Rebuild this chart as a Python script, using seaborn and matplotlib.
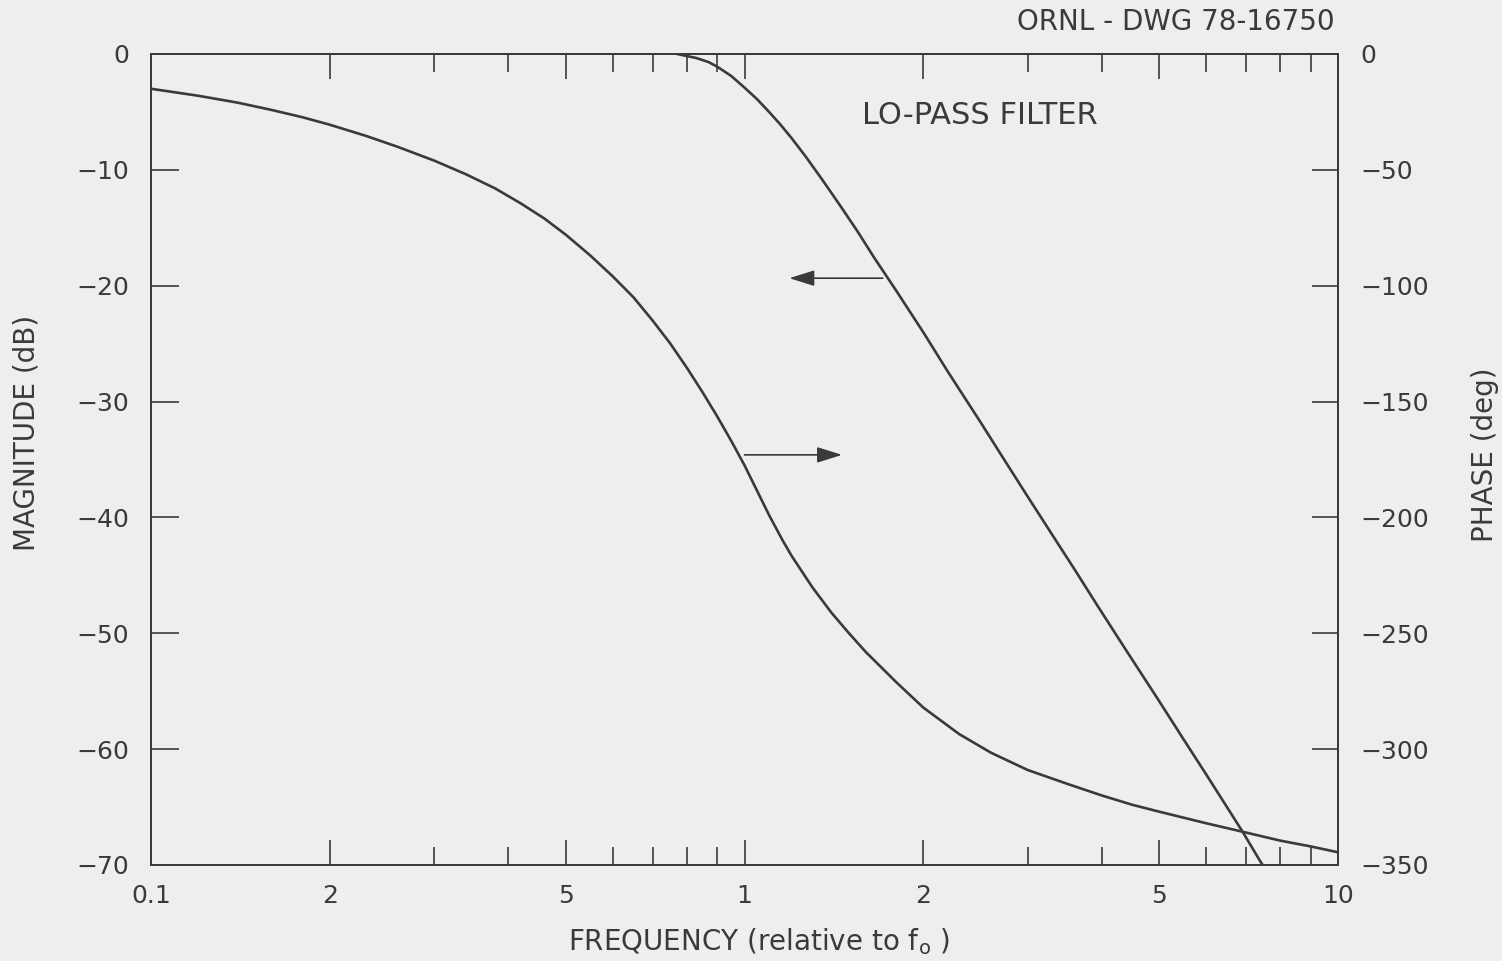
import matplotlib
matplotlib.use("Agg")
import matplotlib.pyplot as plt
import seaborn as sns
import pandas as pd
from matplotlib.ticker import FixedLocator, NullFormatter

# --- DATA ---
mag_freq = [0.77, 0.83, 0.87, 0.9, 0.95, 1.0, 1.05, 1.1, 1.15, 1.2, 1.27, 1.35,
            1.45, 1.55, 1.65, 1.8, 2.0, 2.2, 2.5, 2.73, 3.0, 3.3, 3.6, 3.92,
            4.4, 4.96, 5.5, 6.0, 6.5, 6.92, 7.4, 7.6]
mag_db = [0.0, -0.35, -0.7, -1.1, -1.9, -2.9, -3.9, -5.0, -6.1, -7.25, -8.9, -10.8,
          -13.1, -15.3, -17.5, -20.4, -24.0, -27.4, -31.8, -34.9, -38.2, -41.5, -44.5, -47.5,
          -51.5, -55.6, -59.2, -62.2, -65.0, -67.2, -69.7, -70.6]

phase_freq = [0.1, 0.12, 0.14, 0.16, 0.18, 0.2, 0.23, 0.26, 0.3, 0.34, 0.38,
              0.42, 0.46, 0.5, 0.55, 0.6, 0.65, 0.7, 0.75, 0.8, 0.85, 0.9,
              0.95, 1.0, 1.05, 1.1, 1.16, 1.2, 1.3, 1.4, 1.5, 1.6, 1.8, 2.0,
              2.3, 2.6, 3.0, 3.5, 4.0, 4.5, 5.0, 6.0, 7.0, 8.0, 9.0, 10.0]
phase_deg = [-15, -18, -21, -24.2, -27.3, -30.5, -35.3, -40, -46, -52, -58,
             -64.5, -71, -78, -87, -96, -105, -115, -125, -135.5, -146, -156.5,
             -167, -177.5, -188.5, -199, -210, -216.5, -230, -241, -250, -258, -271, -282,
             -293.5, -301.5, -309, -315, -320, -324, -327, -332, -336, -339.5, -342, -344.5]

x_ticks = [0.1, 0.2, 0.5, 1, 2, 5, 10]
x_ticklabels = ["0.1", "2", "5", "1", "2", "5", "10"]
x_minor = [0.3, 0.4, 0.6, 0.7, 0.8, 0.9, 3, 4, 6, 7, 8, 9]
mag_ticks = [0, -10, -20, -30, -40, -50, -60, -70]
phase_ticks = [0, -50, -100, -150, -200, -250, -300, -350]

# annotation arrows (tail, head) in (freq, dB)
ARROW_LEFT = ((1.71, -19.35), (1.19, -19.35))
ARROW_RIGHT = ((1.0, -34.6), (1.46, -34.6))

INK = "#3a3a3a"
BG = "#eeeeee"

sns.set_theme(style="white")
plt.rcParams["font.family"] = ["DejaVu Sans"]
plt.rcParams["text.color"] = INK
plt.rcParams["axes.labelcolor"] = INK
plt.rcParams["xtick.color"] = INK
plt.rcParams["ytick.color"] = INK

df_mag = pd.DataFrame({"freq": mag_freq, "mag": mag_db})
df_phase = pd.DataFrame({"freq": phase_freq, "phase": phase_deg})

fig = plt.figure(figsize=(15.02, 9.61), dpi=100, facecolor=BG)
ax = fig.add_axes([151 / 1502, 1 - 865 / 961, 1187 / 1502, 811 / 961])
ax.set_facecolor(BG)
ax2 = ax.twinx()

sns.lineplot(data=df_mag, x="freq", y="mag", ax=ax, color=INK, linewidth=1.9)
sns.lineplot(data=df_phase, x="freq", y="phase", ax=ax2, color=INK, linewidth=1.9)

ax.set_xscale("log")
ax.set_xlim(0.1, 10)
ax.set_ylim(-70, 0)
ax2.set_ylim(-350, 0)

ax.xaxis.set_major_locator(FixedLocator(x_ticks))
ax.set_xticklabels(x_ticklabels)
ax.xaxis.set_minor_locator(FixedLocator(x_minor))
ax.xaxis.set_minor_formatter(NullFormatter())
ax.set_yticks(mag_ticks)
ax2.set_yticks(phase_ticks)

ax.tick_params(axis="x", which="major", direction="in", top=True, bottom=True,
               length=18, width=1.2, pad=14, labelsize=18)
ax.tick_params(axis="x", which="minor", direction="in", top=True, bottom=True,
               length=13, width=1.2)
ax.tick_params(axis="y", which="both", direction="in", left=True, right=False,
               length=20, width=1.2, pad=16, labelsize=18)
ax2.tick_params(axis="y", which="both", direction="in", left=False, right=True,
                length=19, width=1.2, pad=16, labelsize=18)

for a in (ax, ax2):
    for s in a.spines.values():
        s.set_color(INK)
        s.set_linewidth(1.4)

ax.set_xlabel("FREQUENCY (relative to f$_\\mathrm{o}$ )", fontsize=20, va="center")
ax.xaxis.set_label_coords(0.512, -0.095)
ax.set_ylabel("MAGNITUDE (dB)", fontsize=20, va="center")
ax.yaxis.set_label_coords(-0.1045, 0.533)
ax2.set_ylabel("PHASE (deg)", fontsize=20, va="center", rotation=90)
ax2.yaxis.set_label_coords(1.124, 0.506)

ax.text(0.599, 0.9236, "LO-PASS FILTER", transform=ax.transAxes,
        fontsize=22, ha="left", va="center", color=INK)
fig.text(1335 / 1502, 1 - 22 / 961, "ORNL - DWG 78-16750", fontsize=20,
         ha="right", va="center", color=INK)

for tail, head in (ARROW_LEFT, ARROW_RIGHT):
    ax.annotate("", xy=head, xytext=tail,
                arrowprops=dict(arrowstyle="-|>,head_length=0.7,head_width=0.22",
                                color=INK, lw=1.2, mutation_scale=22,
                                shrinkA=0, shrinkB=0))

fig.savefig("out.png", dpi=100, facecolor=BG)
